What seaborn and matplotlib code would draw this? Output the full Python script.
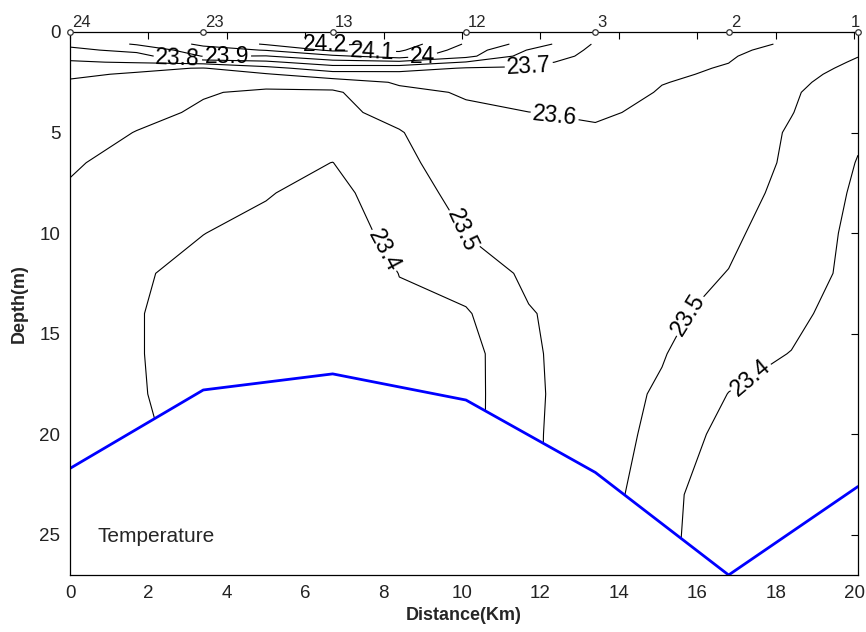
import numpy as np
import pandas as pd
import seaborn as sns
import matplotlib
matplotlib.use("Agg")
import matplotlib.pyplot as plt
from matplotlib.patches import Polygon

# ---- stations along the transect -------------------------------------------
station_names = ["24", "23", "13", "12", "3", "2", "1"]
station_km = [0.0, 3.4, 6.7, 10.1, 13.4, 16.8, 20.1]
bottom_depth_m = [21.7, 17.8, 17.0, 18.3, 21.9, 27.0, 22.6]

# ---- temperature section (deg C), one profile per distance ------------------
grid_km = [0.0, 1.7, 3.4, 5.0, 6.7, 8.4, 10.1, 11.7, 13.4, 15.1, 16.8, 18.4, 20.1]
grid_depth_m = [0.6, 0.9, 1.2, 1.5, 1.8, 2.1, 2.5, 3.0, 4, 5, 6.5, 8, 10, 12,
                14, 16, 18, 20, 23, 27]

t_00_0 = [23.82, 23.78, 23.73, 23.69, 23.66, 23.612, 23.592, 23.582, 23.565, 23.545,
          23.508, 23.492, 23.48, 23.47, 23.46, 23.455, 23.45, 23.45, 23.45, 23.45]
t_01_7 = [23.91, 23.825, 23.764, 23.709, 23.617, 23.592, 23.578, 23.561, 23.527, 23.497,
          23.475, 23.45, 23.42, 23.408, 23.404, 23.404, 23.405, 23.41, 23.41, 23.41]
t_03_4 = [24.02, 23.96, 23.905, 23.74, 23.596, 23.574, 23.544, 23.507, 23.487, 23.473,
          23.451, 23.43, 23.401, 23.38, 23.37, 23.37, 23.375, 23.38, 23.38, 23.38]
t_05_0 = [24.11, 24.005, 23.895, 23.78, 23.671, 23.592, 23.531, 23.485, 23.47, 23.452,
          23.429, 23.405, 23.38, 23.365, 23.36, 23.36, 23.365, 23.37, 23.37, 23.37]
t_06_7 = [24.23, 24.12, 23.98, 23.86, 23.75, 23.66, 23.55, 23.485, 23.475, 23.455,
          23.399, 23.372, 23.355, 23.345, 23.34, 23.34, 23.345, 23.35, 23.35, 23.35]
t_08_4 = [24.16, 24.115, 24.05, 23.875, 23.74, 23.67, 23.61, 23.58, 23.53, 23.494,
          23.475, 23.455, 23.428, 23.401, 23.39, 23.385, 23.385, 23.39, 23.39, 23.39]
t_10_1 = [23.99, 23.955, 23.93, 23.795, 23.693, 23.671, 23.643, 23.607, 23.588, 23.574,
          23.553, 23.531, 23.503, 23.449, 23.39, 23.36, 23.36, 23.36, 23.36, 23.36]
t_11_7 = [23.86, 23.794, 23.756, 23.719, 23.693, 23.68, 23.662, 23.64, 23.599, 23.589,
          23.573, 23.557, 23.536, 23.516, 23.495, 23.49, 23.488, 23.49, 23.49, 23.49]
t_13_4 = [23.69, 23.68, 23.675, 23.67, 23.665, 23.66, 23.65, 23.635, 23.61, 23.59,
          23.575, 23.56, 23.55, 23.54, 23.535, 23.535, 23.535, 23.535, 23.54, 23.54]
t_15_1 = [23.65, 23.64, 23.63, 23.625, 23.615, 23.61, 23.602, 23.595, 23.585, 23.575,
          23.56, 23.55, 23.54, 23.53, 23.52, 23.505, 23.49, 23.48, 23.45, 23.44]
t_16_8 = [23.625, 23.615, 23.607, 23.601, 23.595, 23.59, 23.585, 23.58, 23.57, 23.56,
          23.55, 23.535, 23.515, 23.498, 23.47, 23.44, 23.398, 23.36, 23.30, 23.28]
t_18_4 = [23.59, 23.575, 23.56, 23.55, 23.54, 23.53, 23.52, 23.51, 23.503, 23.49,
          23.485, 23.475, 23.46, 23.45, 23.43, 23.397, 23.37, 23.34, 23.30, 23.28]
t_20_1 = [23.53, 23.515, 23.502, 23.49, 23.478, 23.467, 23.455, 23.443, 23.425, 23.412,
          23.396, 23.385, 23.375, 23.37, 23.34, 23.32, 23.31, 23.30, 23.29, 23.28]

levels = [23.4, 23.5, 23.6, 23.7, 23.8, 23.9, 24.0, 24.1, 24.2]
label_levels = [24.2, 24.1, 24.0, 23.9, 23.8, 23.7, 23.6, 23.5, 23.5, 23.4, 23.4]
label_spots = [(6.5, 0.7), (7.7, 1.05), (9.0, 1.25), (4.0, 1.15), (2.75, 1.3),
               (11.7, 1.65), (12.35, 4.3), (9.8, 10.1), (15.5, 13.8),
               (7.8, 11.1), (17.3, 17.0)]
label_angles = [0, -3, 0, 0, -2, 3, -6, -65, 58, -62, 40]

# ---- style -----------------------------------------------------------------
sns.set_theme(style="white")
plt.rcParams["font.family"] = ["Liberation Sans", "DejaVu Sans"]

fig = plt.figure(figsize=(8.66, 6.32), dpi=100)
ax = fig.add_axes([70 / 866, 1 - 575 / 632, (858 - 70) / 866, (575 - 32) / 632])

temp = np.column_stack([t_00_0, t_01_7, t_03_4, t_05_0, t_06_7, t_08_4, t_10_1,
                        t_11_7, t_13_4, t_15_1, t_16_8, t_18_4, t_20_1])
X, Z = np.meshgrid(grid_km, grid_depth_m)

cs = ax.contour(X, Z, temp, levels=levels, colors="black", linewidths=0.8)
texts = ax.clabel(cs, levels=sorted(set(label_levels)), manual=label_spots,
                  fmt="%g", fontsize=16.5, inline=True, inline_spacing=2)
for txt, ang in zip(texts, label_angles):
    txt.set_rotation(ang)

# water column only: hide isotherms below the sea floor
water = Polygon([(station_km[0], -2)] + list(zip(station_km, bottom_depth_m))
                + [(station_km[-1], -2)], closed=True, transform=ax.transData)
cs.set_clip_path(water)

# sea floor
bottom = pd.DataFrame({"km": station_km, "depth": bottom_depth_m})
sns.lineplot(data=bottom, x="km", y="depth", ax=ax, color="#0000ff",
             linewidth=2.0, sort=False, estimator=None)

# station markers on the surface
ax.plot(station_km, [0] * len(station_km), "o", ms=4, mfc="white", mec="#333333",
        mew=0.9, clip_on=False, zorder=5)
for i, (name, km) in enumerate(zip(station_names, station_km)):
    last = i == len(station_names) - 1
    ax.annotate(name, (km, 0), xytext=(-2 if last else 1.5, 1.5),
                textcoords="offset points", ha="center" if last else "left",
                va="bottom", fontsize=12, annotation_clip=False)

ax.text(0.7, 25.1, "Temperature", fontsize=15, ha="left", va="center")

ax.set_xlim(0, 20.1)
ax.set_ylim(27, 0)
ax.set_xticks(range(0, 21, 2))
ax.set_yticks(range(0, 26, 5))
ax.tick_params(direction="in", length=5, width=0.8, top=True, right=True,
               labeltop=False, labelsize=13.5, colors="black", pad=7)
for lab in ax.get_xticklabels() + ax.get_yticklabels():
    lab.set_color("#222222")
for sp in ax.spines.values():
    sp.set_color("black")
    sp.set_linewidth(0.9)
ax.set_xlabel("Distance(Km)", fontsize=13, fontweight="bold", labelpad=4)
ax.set_ylabel("Depth(m)", fontsize=13, fontweight="bold", labelpad=8)

fig.savefig("out.png", dpi=100)
